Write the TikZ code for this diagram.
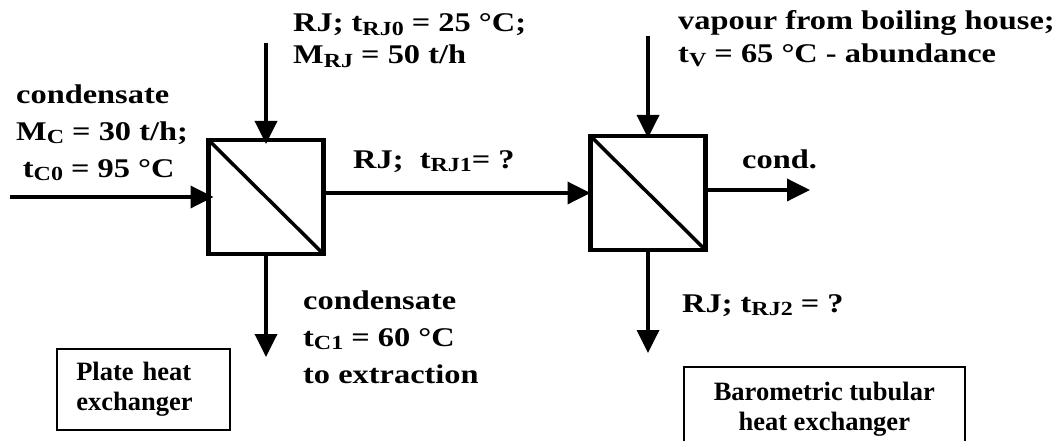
\documentclass[tikz,border=0pt]{standalone}
\usepackage{fontspec}
\setmainfont{Liberation Serif}[FakeStretch=1.2]
\newfontfamily\capfont{Liberation Serif}
\usetikzlibrary{arrows.meta}
\newcommand{\sbs}[1]{\raisebox{-3.5pt}{\fontsize{20}{20}\selectfont #1}}

\tikzset{
  flow/.style={line width=3.6pt,-{Triangle[length=23pt,width=22pt]}},
  hx/.style={draw,line width=4.6pt,minimum width=115pt,minimum height=114pt,
    inner sep=0pt,outer sep=0pt},
  lbl/.style={font=\fontsize{27}{#1}\selectfont\bfseries,inner sep=0pt,
    align=left,anchor=base west},
  lbl/.default=37,
  capbox/.style={draw,line width=1.6pt,inner sep=0pt,
    font=\capfont\fontsize{26.5}{30}\selectfont\bfseries}
}

\begin{document}
\begin{tikzpicture}[x=1pt,y=-1pt]
  \clip (0,0) rectangle (1054,441);
  % the two exchangers
  \node[hx] (B1) at (266,197) {};
  \node[hx] (B2) at (648,193) {};
  \draw[line width=3.5pt] (B1.north west) -- (B1.south east);
  \draw[line width=3.5pt] (B2.north west) -- (B2.south east);
  % free ends of the streams
  \coordinate (Cin) at (10,197);
  \coordinate (RJin) at (266,43);
  \coordinate (Vin) at (648,36);
  \coordinate (Cout) at (810,190);
  \coordinate (Cdown) at (266,357);
  \coordinate (RJdown) at (648,353);
  \draw[flow,shorten >=-5pt] (Cin) -- (B1.west);
  \draw[flow,shorten >=-4pt] (RJin) -- (B1.north);
  \draw[flow] (B1.east |- B2.west) -- (B2.west);
  \draw[flow,shorten >=-2pt] (Vin) -- (B2.north);
  \draw[flow] (B2.east |- Cout) -- (Cout);
  \draw[flow] (B1.south) -- (Cdown);
  \draw[flow] (B2.south) -- (RJdown);
  % stream labels (base = last line)
  \node[lbl=32] (Lrj0) at (293,64) {RJ; t\sbs{RJ0} = 25 °C;\\M\sbs{RJ} = 50 t/h};
  \node[lbl] (Lc0) at (16,177)
    {condensate\\M\sbs{C} = 30 t/h;\\\hspace*{.25em}t\sbs{C0} = 95 °C};
  \node[lbl] (Lrj1) at (353,168) {RJ;\ \ t\sbs{RJ1}= ?};
  \node[lbl=33] (Lv) at (678,63)
    {vapour from boiling house;\\t\sbs{V} = 65 °C - abundance};
  \node[lbl] (Lcond) at (742,168) {cond.};
  \node[lbl] (Lc1) at (303,383) {condensate\\t\sbs{C1} = 60 °C\\to extraction};
  \node[lbl] (Lrj2) at (682,312) {RJ; t\sbs{RJ2} = ?};
  % captions
  \node[capbox,minimum width=173pt,minimum height=81pt,text width=134pt,
    align=left,anchor=north west] (Plate) at (56,348) {Plate heat\\exchanger};
  \node[capbox,minimum width=281pt,minimum height=85pt,align=center,
    anchor=north west] (Baro) at (683,366) {Barometric tubular\\heat exchanger};
\end{tikzpicture}
\end{document}
